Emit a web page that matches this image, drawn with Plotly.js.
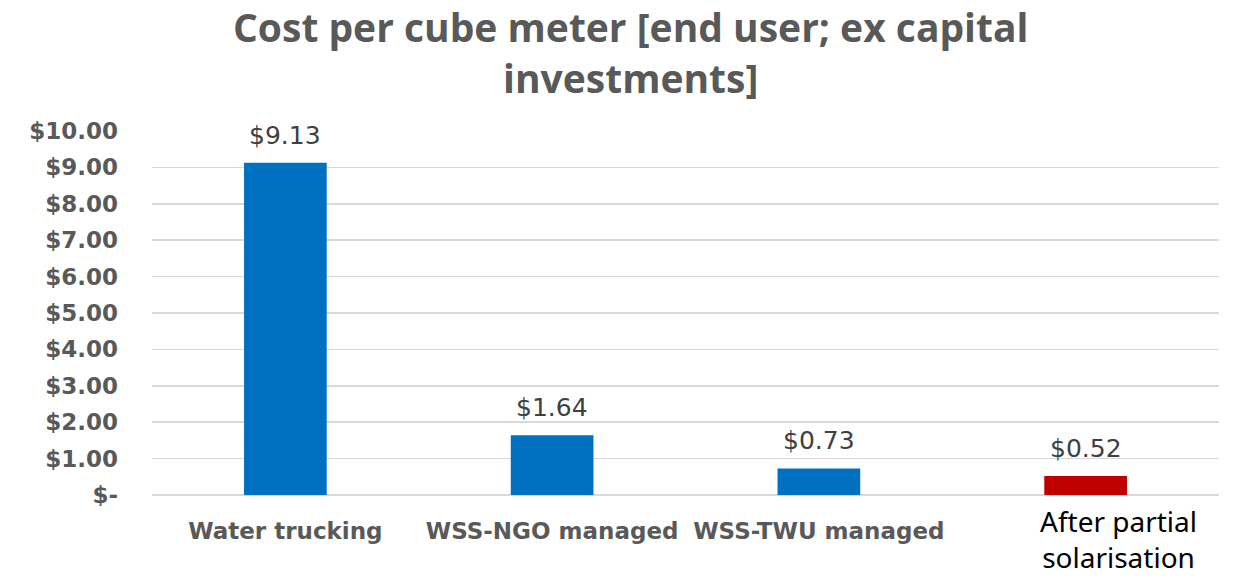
<!DOCTYPE html>
<html><head><meta charset="utf-8">
<script src="https://cdn.plot.ly/plotly-3.0.1.min.js"></script>
<style>html,body{margin:0;padding:0;background:#fff}#chart{width:1250px;height:578px}</style>
</head><body><div id="chart"></div>
<script>
const categories = ["Water trucking", "WSS-NGO managed", "WSS-TWU managed", "WSS-TWU managed solar"];
const tickLabels = ["Water trucking", "WSS-NGO managed", "WSS-TWU managed", ""];
const costs = [9.13, 1.64, 0.73, 0.52];
const barColors = ["#0070C0", "#0070C0", "#0070C0", "#C00000"];
const yTicks = [0,1,2,3,4,5,6,7,8,9,10];
const yTickText = ["$-","$1.00","$2.00","$3.00","$4.00","$5.00","$6.00","$7.00","$8.00","$9.00","$10.00"];
const titleText = "Cost per cube meter [end user; ex capital<br>investments]";
const overlayLabel = "After partial<br>solarisation";

const trace = {
  type: "bar", x: categories, y: costs,
  marker: {color: barColors},
  width: 0.31,
  hoverinfo: "skip"
};
const annotations = categories.map((c, i) => ({
  x: c, y: costs[i], xref: "x", yref: "y",
  text: "$" + costs[i].toFixed(2), showarrow: false,
  yanchor: "bottom", yshift: 11,
  font: {family: "DejaVu Sans, sans-serif", size: 25, color: "#404040"}
}));
annotations.push({
  x: categories[3], xref: "x", xshift: 33, y: (495 - 539) / 364, yref: "paper", yanchor: "middle",
  text: overlayLabel, showarrow: false, align: "center",
  font: {family: "Noto Sans, sans-serif", size: 28, color: "#000"},
  bgcolor: "#fff"
});
annotations.push({
  x: 0.448, xref: "paper", xanchor: "center",
  y: (495 - 52) / 364, yref: "paper", yanchor: "middle",
  text: titleText, showarrow: false, align: "center",
  font: {family: "Open Sans, sans-serif", size: 39, color: "#595959", weight: "bold"}
});
const layout = {
  width: 1250, height: 578,
  margin: {l: 152, r: 31, t: 131, b: 83},
  paper_bgcolor: "#fff", plot_bgcolor: "#fff",
  xaxis: {tickmode: "array", tickvals: categories, ticktext: tickLabels, showgrid: false, showline: false, zeroline: false,
    ticks: "", ticklabelstandoff: 20,
    tickfont: {family: "DejaVu Sans, sans-serif", size: 23, color: "#595959", weight: "bold"}},
  yaxis: {range: [0, 10], tickvals: yTicks, ticktext: yTickText, showgrid: true, gridcolor: "#d9d9d9", gridwidth: 1.5,
    zeroline: true, zerolinecolor: "#d9d9d9", zerolinewidth: 1.5, showline: false, ticks: "", ticklen: 0,
    ticklabelstandoff: 33,
    tickfont: {family: "DejaVu Sans, sans-serif", size: 23, color: "#595959", weight: "bold"}},
  annotations: annotations,
  showlegend: false
};
Plotly.newPlot("chart", [trace], layout, {displayModeBar: false, staticPlot: true});
</script></body></html>
